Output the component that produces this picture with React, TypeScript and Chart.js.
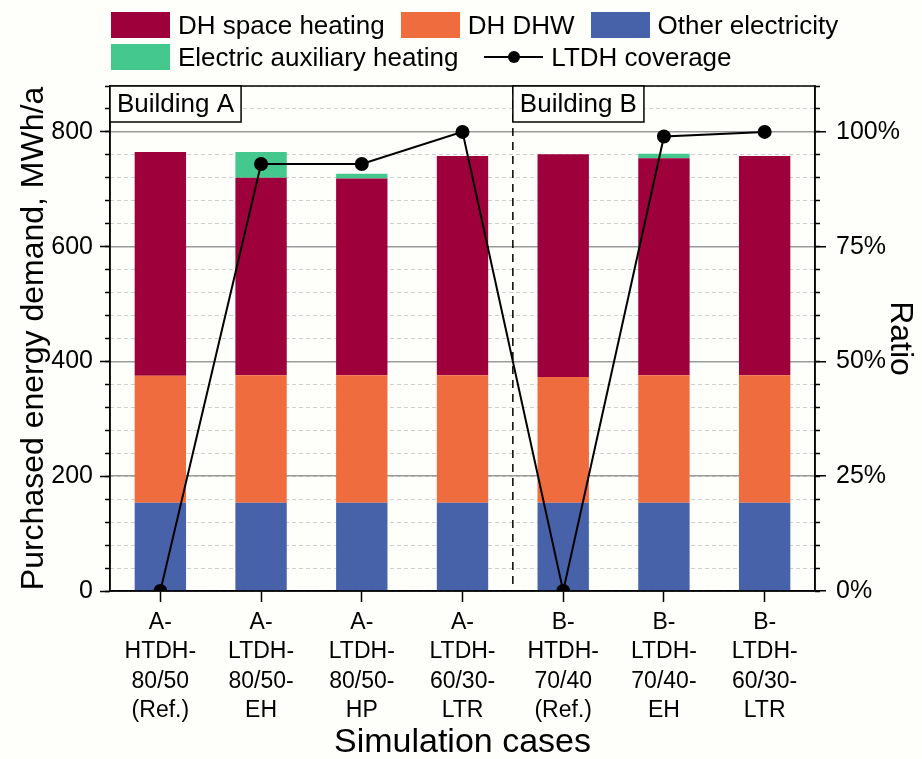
import React, { useEffect, useRef } from "react";
import { Chart, registerables } from "chart.js";

Chart.register(...registerables);

const FONT = "'Liberation Sans', Arial, Helvetica, sans-serif";

// ---- data ----
const categories: string[][] = [
  ["A-", "HTDH-", "80/50", "(Ref.)"],
  ["A-", "LTDH-", "80/50-", "EH"],
  ["A-", "LTDH-", "80/50-", "HP"],
  ["A-", "LTDH-", "60/30-", "LTR"],
  ["B-", "HTDH-", "70/40", "(Ref.)"],
  ["B-", "LTDH-", "70/40-", "EH"],
  ["B-", "LTDH-", "60/30-", "LTR"],
];
const otherElectricity = [154, 154, 154, 154, 154, 154, 154];
const dhDhw = [221, 222, 222, 222, 219, 222, 222];
const dhSpaceHeating = [390, 344, 343, 382, 388, 378, 382];
const electricAuxHeating = [0, 45, 8, 0, 0, 8, 0];
const ltdhCoverage = [0, 0.93, 0.93, 1.0, 0, 0.99, 1.0];

const yTickMax = 880;
const ratioMax = 1.1;
const buildingLabels = ["Building A", "Building B"];

const COLOR_SPACE = "#9e003b";
const COLOR_DHW = "#ef6c3f";
const COLOR_OTHER = "#4862aa";
const COLOR_AUX = "#44c88e";

const legendRow1 = [
  { label: "DH space heating", color: COLOR_SPACE },
  { label: "DH DHW", color: COLOR_DHW },
  { label: "Other electricity", color: COLOR_OTHER },
];
const legendRow2Box = { label: "Electric auxiliary heating", color: COLOR_AUX };
const legendLineLabel = "LTDH coverage";

const isMult = (v: number, step: number) =>
  Math.abs(v / step - Math.round(v / step)) < 1e-6;

const decorPlugin = {
  id: "decor",
  afterDatasetsDraw(chart: any) {
    const { ctx, chartArea } = chart;
    const xs = chart.scales.x;
    const sepX = (xs.getPixelForValue(3) + xs.getPixelForValue(4)) / 2;
    ctx.save();
    ctx.strokeStyle = "#000";
    ctx.lineWidth = 1.5;
    ctx.setLineDash([8, 6]);
    ctx.beginPath();
    ctx.moveTo(sepX, chartArea.top);
    ctx.lineTo(sepX, chartArea.bottom);
    ctx.stroke();
    ctx.setLineDash([]);
    ctx.strokeRect(
      chartArea.left,
      chartArea.top,
      chartArea.right - chartArea.left,
      chartArea.bottom - chartArea.top
    );
    ctx.font = `26px ${FONT}`;
    ctx.textBaseline = "middle";
    ctx.textAlign = "left";
    const starts = [chartArea.left, sepX];
    buildingLabels.forEach((t, i) => {
      const w = ctx.measureText(t).width + 14;
      const x0 = starts[i];
      const y0 = chartArea.top;
      ctx.fillStyle = "#fefefa";
      ctx.fillRect(x0, y0, w, 36);
      ctx.strokeStyle = "#000";
      ctx.strokeRect(x0, y0, w, 36);
      ctx.fillStyle = "#000";
      ctx.fillText(t, x0 + 7, y0 + 19);
    });
    ctx.restore();
  },
};

export default function App() {
  const ref = useRef<HTMLCanvasElement>(null);

  useEffect(() => {
    const chart = new Chart(ref.current as HTMLCanvasElement, {
      type: "bar",
      data: {
        labels: categories as any,
        datasets: [
          {
            type: "line",
            label: legendLineLabel,
            data: ltdhCoverage,
            yAxisID: "y1",
            borderColor: "#000",
            backgroundColor: "#000",
            borderWidth: 2,
            pointRadius: 6,
            pointBackgroundColor: "#000",
            pointBorderColor: "#000",
            order: 0,
          } as any,
          {
            label: "Other electricity",
            data: otherElectricity,
            backgroundColor: COLOR_OTHER,
            yAxisID: "y",
            order: 1,
          },
          {
            label: "DH DHW",
            data: dhDhw,
            backgroundColor: COLOR_DHW,
            yAxisID: "y",
            order: 1,
          },
          {
            label: "DH space heating",
            data: dhSpaceHeating,
            backgroundColor: COLOR_SPACE,
            yAxisID: "y",
            order: 1,
          },
          {
            label: "Electric auxiliary heating",
            data: electricAuxHeating,
            backgroundColor: COLOR_AUX,
            yAxisID: "y",
            order: 1,
          },
        ],
      },
      options: {
        animation: false,
        responsive: true,
        maintainAspectRatio: false,
        layout: { padding: { top: 86, left: 0, right: 0, bottom: 0 } },
        datasets: { bar: { barPercentage: 0.51, categoryPercentage: 1 } },
        plugins: { legend: { display: false }, tooltip: { enabled: false } },
        scales: {
          x: {
            stacked: true,
            offset: true,
            grid: {
              offset: false,
              drawOnChartArea: false,
              tickLength: 11,
              tickColor: "#000",
              tickWidth: 1.5,
            },
            border: { color: "#000", width: 1.5 },
            ticks: {
              color: "#000",
              font: { family: FONT, size: 23, lineHeight: 1.275 },
              padding: 6,
              maxRotation: 0,
              autoSkip: false,
            },
            title: {
              display: true,
              text: "Simulation cases",
              color: "#000",
              font: { family: FONT, size: 34, lineHeight: 1 },
              padding: { top: 0, bottom: -1 },
            },
            afterFit: (s: any) => {
              s.height = 168;
            },
          },
          y: {
            stacked: true,
            position: "left",
            weight: 1,
            min: 0,
            max: yTickMax,
            ticks: {
              stepSize: 40,
              autoSkip: false,
              color: "#000",
              font: { family: FONT, size: 25 },
              padding: 7,
              callback: (v: any) => (isMult(Number(v), 200) ? String(v) : ""),
            },
            grid: {
              drawOnChartArea: false,
              tickLength: 10,
              tickColor: (c: any) =>
                c.tick && isMult(c.tick.value, 200) ? "#000" : "rgba(0,0,0,0)",
              tickWidth: 1.5,
            },
            border: { color: "#000", width: 1.5 },
            title: {
              display: true,
              text: "Purchased energy demand, MWh/a",
              color: "#000",
              font: { family: FONT, size: 32, lineHeight: 1 },
              padding: { top: 18, bottom: 0 },
            },
            afterFit: (s: any) => {
              s.width = 110;
            },
          },
          yMinor: {
            position: "left",
            weight: 0,
            min: 0,
            max: yTickMax,
            ticks: { display: false, stepSize: 40, autoSkip: false, padding: 0 },
            grid: {
              color: "#cfcfcf",
              lineWidth: 1,
              drawTicks: true,
              tickLength: 5,
              tickColor: "#000",
              tickWidth: 1.5,
            },
            border: { display: false, dash: [4, 3] },
            afterFit: (s: any) => {
              s.width = 0;
            },
          },
          y1: {
            position: "right",
            weight: 1,
            min: 0,
            max: ratioMax,
            ticks: {
              stepSize: 0.05,
              autoSkip: false,
              color: "#000",
              font: { family: FONT, size: 25 },
              padding: 10,
              callback: (v: any) =>
                isMult(Number(v), 0.25) ? Math.round(Number(v) * 100) + "%" : "",
            },
            grid: {
              drawOnChartArea: true,
              color: (c: any) =>
                c.tick && c.tick.value > 0.01 && isMult(c.tick.value, 0.25)
                  ? "#9a9a9a"
                  : "rgba(0,0,0,0)",
              lineWidth: 1.5,
              tickLength: 11,
              tickColor: (c: any) =>
                c.tick && isMult(c.tick.value, 0.25) ? "#000" : "rgba(0,0,0,0)",
              tickWidth: 1.5,
            },
            border: { color: "#000", width: 1.5 },
            title: {
              display: true,
              text: "Ratio",
              color: "#000",
              font: { family: FONT, size: 32, lineHeight: 1 },
              padding: { top: 6, bottom: 0 },
            },
            afterFit: (s: any) => {
              s.width = 107;
            },
          },
          y1Minor: {
            position: "right",
            weight: 0,
            min: 0,
            max: ratioMax,
            ticks: { display: false, stepSize: 0.05, autoSkip: false, padding: 0 },
            grid: {
              drawOnChartArea: false,
              drawTicks: true,
              tickLength: 5,
              tickColor: "#000",
              tickWidth: 1.5,
            },
            border: { display: false },
            afterFit: (s: any) => {
              s.width = 0;
            },
          },
        } as any,
      },
      plugins: [decorPlugin],
    });
    return () => chart.destroy();
  }, []);

  const box = (color: string) => (
    <span
      style={{
        display: "inline-block",
        width: 59,
        height: 26,
        background: color,
        marginRight: 8,
        flex: "0 0 auto",
      }}
    />
  );

  return (
    <div
      style={{
        position: "absolute",
        left: 0,
        top: 0,
        width: 922,
        height: 759,
        background: "#fefefa",
        overflow: "hidden",
      }}
    >
      <canvas ref={ref} />
      <div
        style={{
          position: "absolute",
          left: 111,
          top: 12,
          display: "flex",
          alignItems: "center",
          font: `26px ${FONT}`,
          lineHeight: "26px",
          color: "#000",
          whiteSpace: "nowrap",
        }}
      >
        {legendRow1.map((it, i) => (
          <span
            key={it.label}
            style={{ display: "flex", alignItems: "center", marginLeft: i ? 16 : 0 }}
          >
            {box(it.color)}
            {it.label}
          </span>
        ))}
      </div>
      <div
        style={{
          position: "absolute",
          left: 111,
          top: 44,
          display: "flex",
          alignItems: "center",
          font: `26px ${FONT}`,
          lineHeight: "26px",
          color: "#000",
          whiteSpace: "nowrap",
        }}
      >
        <span style={{ display: "flex", alignItems: "center" }}>
          {box(legendRow2Box.color)}
          {legendRow2Box.label}
        </span>
        <span style={{ display: "flex", alignItems: "center", marginLeft: 26 }}>
          <span
            style={{
              position: "relative",
              display: "inline-block",
              width: 59,
              height: 26,
              marginRight: 8,
            }}
          >
            <span
              style={{
                position: "absolute",
                left: 0,
                top: 12,
                width: 59,
                height: 2,
                background: "#000",
              }}
            />
            <span
              style={{
                position: "absolute",
                left: 23.5,
                top: 7,
                width: 12,
                height: 12,
                borderRadius: 6,
                background: "#000",
              }}
            />
          </span>
          {legendLineLabel}
        </span>
      </div>
    </div>
  );
}
